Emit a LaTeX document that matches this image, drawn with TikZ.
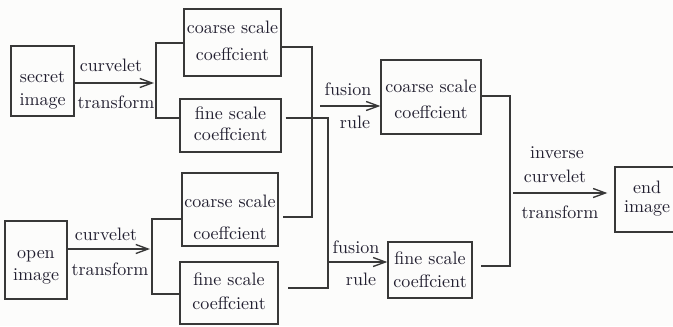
\documentclass[tikz,border=0pt]{standalone}
\usetikzlibrary{arrows.meta}
\definecolor{ink}{HTML}{221F30}
\definecolor{lineclr}{HTML}{383838}
\definecolor{paper}{HTML}{FCFCFB}
% drawing unit
\newdimen\px \px=0.5556pt
% two centred lines: #1 = downward shift, #2 = line distance (both in \px)
\newcommand\twolines[4]{%
  \raisebox{-#1\px}[\height][\depth]{%
    \fontsize{10}{#2\px}\selectfont
    \begin{tabular}{@{}c@{}}#3\\#4\end{tabular}}}
\begin{document}
\begin{tikzpicture}[x=\px,y=-\px,
  box/.style={draw=lineclr, line width=0.75pt, inner sep=0pt,
    text=ink, font=\fontsize{10}{13.3}\selectfont},
  lbl/.style={text=ink, font=\fontsize{10}{13.3}\selectfont, inner sep=0pt, anchor=base},
  conn/.style={draw=lineclr, line width=0.75pt},
  arr/.style={conn, -{Straight Barb[length=6.8pt,width=5pt]}}]
\useasboundingbox (0,0) rectangle (673,326);
\fill[paper] (0,0) rectangle (673,326);
\clip (0,0) rectangle (673,326);

% input images
\node[box, minimum width=63\px, minimum height=70\px] (secret) at (42.5,81)
  {\twolines{7.9}{23}{secret}{image}};
\node[box, minimum width=62\px, minimum height=78\px] (open) at (36,260)
  {\twolines{4.6}{22}{open}{image}};

% coefficients after the forward transform
\node[box, minimum width=97\px, minimum height=67\px] (coarse1) at (232.5,42.5)
  {\twolines{-1.4}{27}{coarse scale}{coeffcient}};
\node[box, minimum width=101\px, minimum height=53\px] (fine1) at (230.5,125.5)
  {\twolines{-0.2}{21}{fine scale}{coeffcient}};
\node[box, minimum width=96\px, minimum height=73\px] (coarse2) at (230,209.5)
  {\twolines{7.1}{32}{coarse scale}{coeffcient}};
\node[box, minimum width=98\px, minimum height=62\px] (fine2) at (229,293)
  {\twolines{-0.8}{24}{fine scale}{coeffcient}};

% fused coefficients
\node[box, minimum width=100\px, minimum height=74\px] (coarseF) at (431,97)
  {\twolines{2.8}{26}{coarse scale}{coeffcient}};
\node[box, minimum width=84\px, minimum height=56\px] (fineF) at (430,270)
  {\twolines{0.9}{23}{fine scale}{coeffcient}};

% reconstructed image
\node[box, minimum width=64\px, minimum height=65\px] (end) at (647,199.5)
  {\twolines{-0.8}{19}{end}{image}};

% forward transforms and their split into two scales
\coordinate (s1) at (156,83);
\coordinate (s2) at (152,249);
\draw[arr] (secret.east |- s1) -- ([xshift=-2\px]s1);
\draw[conn] (coarse1.west |- 0,43) -| (s1) |- ([xshift=2\px]fine1.west |- 0,118);
\draw[arr] (open.east |- s2) -- ([xshift=-2\px]s2);
\draw[conn] (coarse2.west |- 0,219) -| (s2) |- (fine2.west |- 0,294);
\node[lbl] (cv1) at (111,71.5) {curvelet};
\node[lbl] (tr1) at (116,108) {transform};
\node[lbl] (cv2) at (106,240) {curvelet};
\node[lbl] (tr2) at (110,275) {transform};

% coarse coefficients brought together
\coordinate (ca) at (312,47);
\coordinate (cb) at (312,217);
\draw[conn] (coarse1.east |- ca) -- (ca) -- (cb) -- ([xshift=4\px]coarse2.east |- cb);
\coordinate (f1) at (320,106);
\draw[arr] (f1) -- (coarseF.west |- f1);
\node[lbl] (fu1) at (348,95) {fusion};
\node[lbl] (ru1) at (355,128) {rule};

% fine coefficients brought together
\coordinate (fa) at (328,118);
\coordinate (fb) at (328,288);
\coordinate (f2) at (328,262);
\draw[conn] ([xshift=4\px]fine1.east |- fa) -- (fa) -- (fb) -- ([xshift=9\px]fine2.east |- fb);
\draw[arr] (f2) -- (fineF.west |- f2);
\node[lbl] (fu2) at (356,253) {fusion};
\node[lbl] (ru2) at (361,285) {rule};

% inverse transform
\coordinate (ra) at (510,96);
\coordinate (rb) at (510,266);
\coordinate (r1) at (513,193);
\draw[conn] (coarseF.east |- ra) -- (ra) -- (rb) -- ([xshift=8\px]fineF.east |- rb);
\draw[arr] (r1) -- ([xshift=-7\px]end.west |- r1);
\node[lbl] (inv) at (557,158) {inverse};
\node[lbl] (cv3) at (555,182) {curvelet};
\node[lbl] (tr3) at (560,218) {transform};
\end{tikzpicture}
\end{document}
